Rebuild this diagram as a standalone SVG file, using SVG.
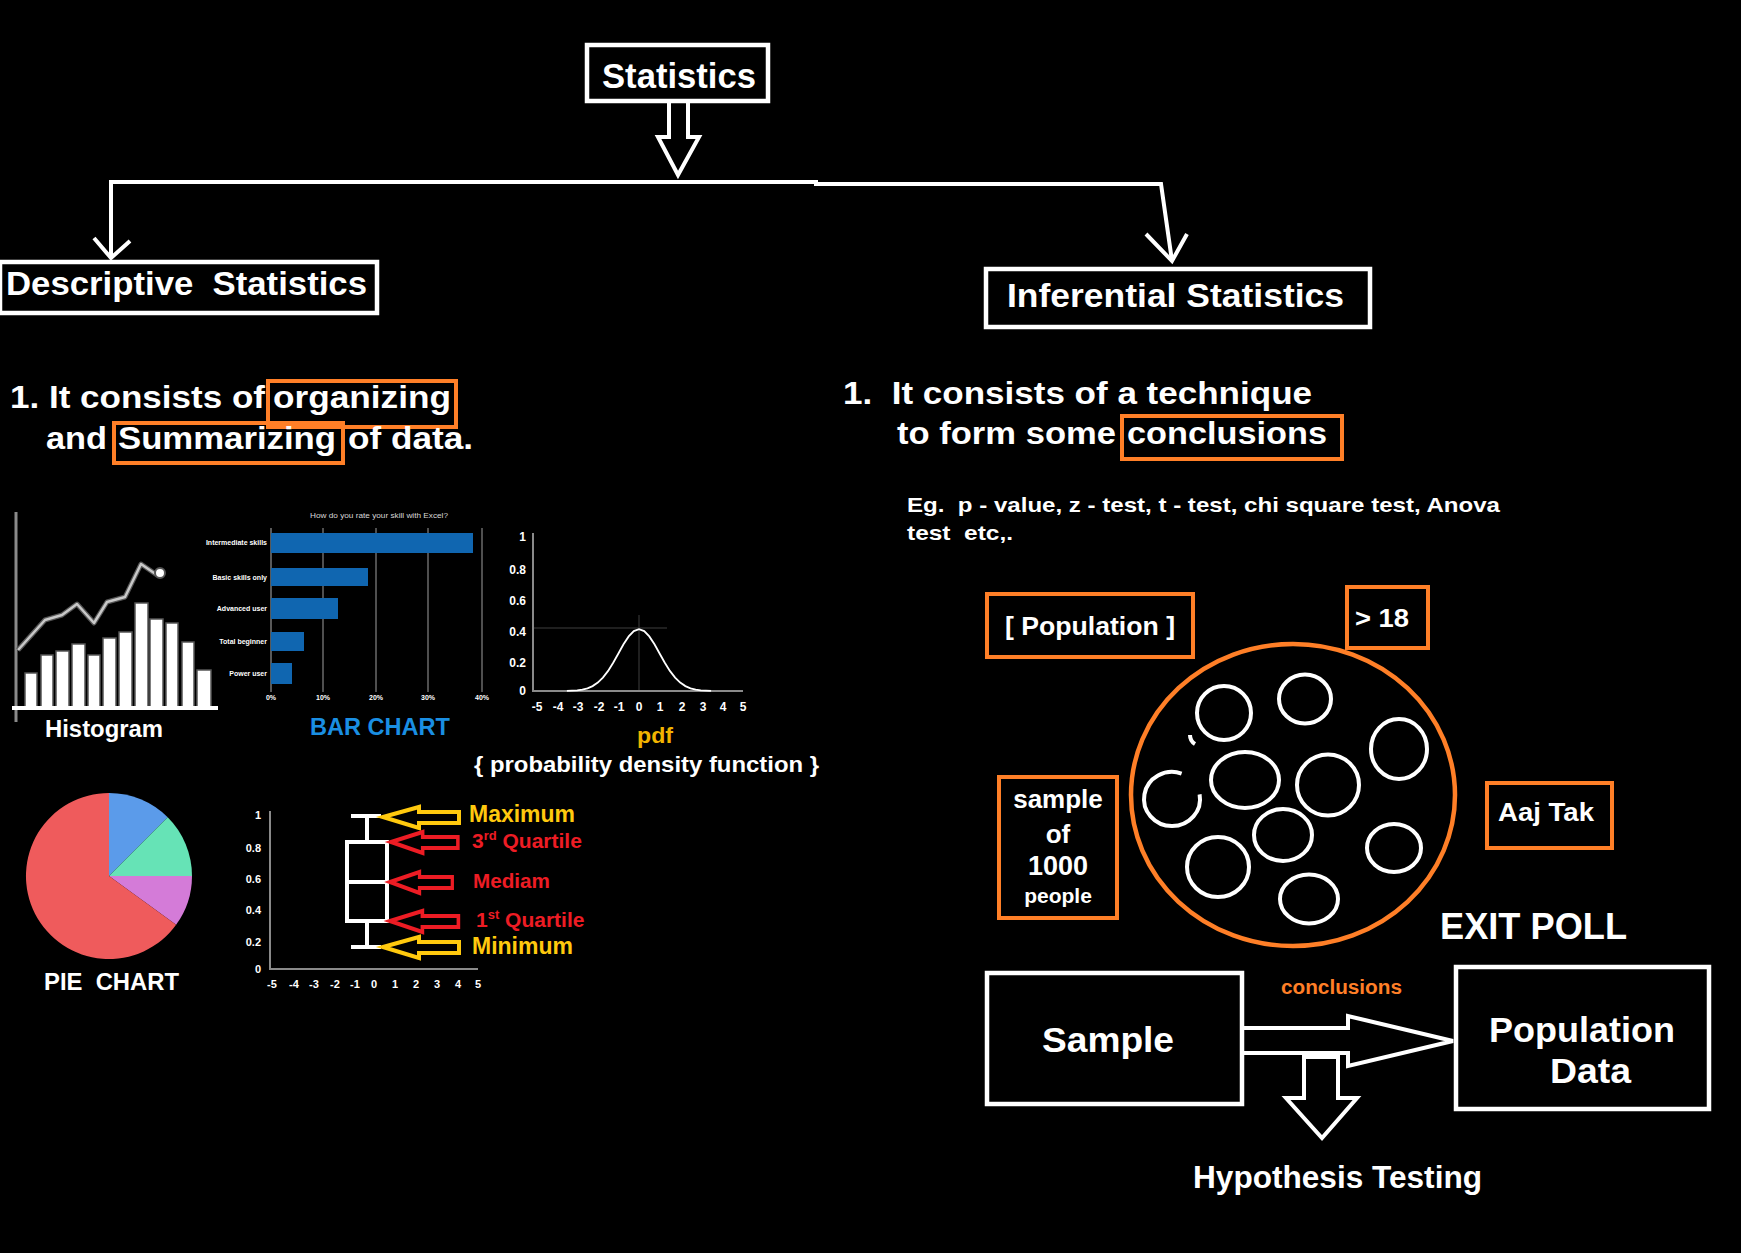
<svg xmlns="http://www.w3.org/2000/svg" width="1741" height="1253" viewBox="0 0 1741 1253">
<defs>
<style>
text{font-family:"Liberation Sans",Arial,sans-serif;font-weight:bold;fill:#fff}
.box{fill:none;stroke:#fff;stroke-width:4.5}
.obox{fill:none;stroke:#ff7f27;stroke-width:4}
.conn{fill:none;stroke:#fff;stroke-width:4;stroke-linejoin:miter}
.hol{fill:none;stroke:#fff;stroke-width:4;stroke-linejoin:miter}
.ax{stroke:#8a8a8a;stroke-width:2;fill:none}
.tick{font-size:12px;fill:#cfcfcf}
.tiny{font-size:7px;fill:#d8d8d8;font-weight:normal}
.bar{fill:#1066b0}
.grid{stroke:#6a6a6a;stroke-width:1.5}
.hbar{fill:#fff;stroke:#555;stroke-width:1.5}
.pc{fill:none;stroke:#fff;stroke-width:4}
.yarr{fill:none;stroke:#ffc90e;stroke-width:4;stroke-linejoin:miter}
.rarr{fill:none;stroke:#ed1c24;stroke-width:4;stroke-linejoin:miter}
.y{fill:#ffc90e}
.r{fill:#ed1c24}
</style>
<path id="larr" d="M0,0 L36,-10 L36,-5 L76,-5 L76,6 L36,6 L36,11 Z"/>
</defs>
<rect x="0" y="0" width="1741" height="1253" fill="#000"/>

<g id="connectors">
<path class="hol" d="M669,103 V137 H658 L678,175 L699,137 H688 V103"/>
<path class="conn" d="M111,258 V182 H816 V184 H1161 L1172,261"/>
<path class="conn" d="M94,238 L111,258 L130,241"/>
<path class="conn" d="M1146,234 L1172,261 L1187,234"/>
<path class="hol" d="M1244,1028 H1348 V1016 L1453,1041 L1348,1066 V1053 H1244"/>
<path class="hol" d="M1304,1057 V1098 H1286 L1322,1138 L1357,1098 H1338 V1057 Z"/>
</g>

<g id="node-statistics">
<rect class="box" x="587" y="45" width="181" height="56"/>
<text x="602" y="88" font-size="35" textLength="154" lengthAdjust="spacingAndGlyphs">Statistics</text>
</g>

<g id="node-descriptive">
<rect class="box" x="0" y="262" width="377" height="51"/>
<text x="6" y="295" font-size="33" textLength="361" lengthAdjust="spacingAndGlyphs" xml:space="preserve">Descriptive  Statistics</text>
</g>

<g id="node-inferential">
<rect class="box" x="986" y="269" width="384" height="58"/>
<text x="1007" y="307" font-size="33" textLength="337" lengthAdjust="spacingAndGlyphs">Inferential Statistics</text>
</g>

<g id="desc-text">
<text x="10" y="408" font-size="32" textLength="255" lengthAdjust="spacingAndGlyphs">1. It consists of</text>
<text x="273" y="408" font-size="32" textLength="178" lengthAdjust="spacingAndGlyphs">organizing</text>
<rect class="obox" x="268" y="381" width="188" height="46"/>
<text x="46" y="449" font-size="32" textLength="61" lengthAdjust="spacingAndGlyphs">and</text>
<text x="118" y="449" font-size="32" textLength="218" lengthAdjust="spacingAndGlyphs">Summarizing</text>
<rect class="obox" x="114" y="423" width="229" height="40"/>
<text x="348" y="449" font-size="32" textLength="125" lengthAdjust="spacingAndGlyphs">of data.</text>
</g>

<g id="inf-text">
<text x="843" y="404" font-size="32" textLength="469" lengthAdjust="spacingAndGlyphs" xml:space="preserve">1.  It consists of a technique</text>
<text x="897" y="444" font-size="32" textLength="219" lengthAdjust="spacingAndGlyphs">to form some</text>
<text x="1127" y="444" font-size="32" textLength="200" lengthAdjust="spacingAndGlyphs">conclusions</text>
<rect class="obox" x="1122" y="416" width="220" height="43"/>
<text x="907" y="512" font-size="21" textLength="593" lengthAdjust="spacingAndGlyphs" xml:space="preserve">Eg.  p - value, z - test, t - test, chi square test, Anova</text>
<text x="907" y="540" font-size="21" textLength="106" lengthAdjust="spacingAndGlyphs" xml:space="preserve">test  etc,.</text>
</g>

<g id="histogram">
<line x1="16" y1="512" x2="16" y2="722" stroke="#8a8a8a" stroke-width="3"/>
<rect class="hbar" x="25" y="673" width="12" height="35"/>
<rect class="hbar" x="41" y="655" width="12" height="53"/>
<rect class="hbar" x="56" y="651" width="13" height="57"/>
<rect class="hbar" x="72" y="644" width="13" height="64"/>
<rect class="hbar" x="88" y="655" width="12" height="53"/>
<rect class="hbar" x="103" y="638" width="13" height="70"/>
<rect class="hbar" x="119" y="632" width="13" height="76"/>
<rect class="hbar" x="135" y="603" width="13" height="105"/>
<rect class="hbar" x="150" y="619" width="13" height="89"/>
<rect class="hbar" x="166" y="623" width="12" height="85"/>
<rect class="hbar" x="182" y="642" width="12" height="66"/>
<rect class="hbar" x="197" y="670" width="14" height="38"/>
<line x1="12" y1="708" x2="218" y2="708" stroke="#fff" stroke-width="4"/>
<polyline points="18,650 45,620 62,615 77,604 94,623 107,602 125,597 141,564 157,575" fill="none" stroke="#555" stroke-width="5" stroke-linejoin="round"/>
<polyline points="18,650 45,620 62,615 77,604 94,623 107,602 125,597 141,564 157,575" fill="none" stroke="#c8c8c8" stroke-width="2.5" stroke-linejoin="round"/>
<circle cx="160" cy="573" r="5" fill="#fff" stroke="#555" stroke-width="2"/>
<text x="45" y="737" font-size="24" textLength="118" lengthAdjust="spacingAndGlyphs">Histogram</text>
</g>

<g id="bar-chart">
<text class="tiny" x="310" y="518" textLength="138" lengthAdjust="spacingAndGlyphs">How do you rate your skill with Excel?</text>
<line class="grid" x1="323" y1="528" x2="323" y2="692"/>
<line class="grid" x1="376" y1="528" x2="376" y2="692"/>
<line class="grid" x1="428" y1="528" x2="428" y2="692"/>
<line class="grid" x1="482" y1="528" x2="482" y2="692"/>
<line x1="271" y1="528" x2="271" y2="692" stroke="#777" stroke-width="1.5"/>
<rect class="bar" x="271" y="533" width="202" height="20"/>
<rect class="bar" x="271" y="568" width="97" height="18"/>
<rect class="bar" x="271" y="598" width="67" height="21"/>
<rect class="bar" x="271" y="632" width="33" height="19"/>
<rect class="bar" x="271" y="663" width="21" height="21"/>
<g class="tiny" text-anchor="end">
<text x="267" y="545">Intermediate skills</text>
<text x="267" y="580">Basic skills only</text>
<text x="267" y="611">Advanced user</text>
<text x="267" y="644">Total beginner</text>
<text x="267" y="676">Power user</text>
</g>
<g class="tiny" text-anchor="middle">
<text x="271" y="700">0%</text>
<text x="323" y="700">10%</text>
<text x="376" y="700">20%</text>
<text x="428" y="700">30%</text>
<text x="482" y="700">40%</text>
</g>
<text x="310" y="735" font-size="24" style="fill:#1a8fe3" textLength="140" lengthAdjust="spacingAndGlyphs">BAR CHART</text>
</g>

<g id="pdf-chart">
<line x1="533" y1="628" x2="667" y2="628" stroke="#2a2a2a" stroke-width="1.5"/>
<line x1="639" y1="615" x2="639" y2="691" stroke="#2a2a2a" stroke-width="1.5"/>
<polyline class="ax" points="533,533 533,691 743,691"/>
<polyline points="566.9,690.9 577.2,690.3 582.3,689.6 587.5,688.3 592.6,686.1 597.8,682.6 602.9,677.6 608.1,670.9 613.2,662.7 618.4,653.5 623.5,644.3 628.7,636.4 633.8,631.1 639,629.2 644.2,631.1 649.3,636.4 654.5,644.3 659.6,653.5 664.8,662.7 669.9,670.9 675.1,677.6 680.2,682.6 685.4,686.1 690.5,688.3 695.7,689.6 700.8,690.3 711.1,690.9" fill="none" stroke="#fff" stroke-width="1.8"/>
<g class="tick" text-anchor="end">
<text x="526" y="541">1</text>
<text x="526" y="574">0.8</text>
<text x="526" y="605">0.6</text>
<text x="526" y="636">0.4</text>
<text x="526" y="667">0.2</text>
<text x="526" y="695">0</text>
</g>
<g class="tick" text-anchor="middle">
<text x="537" y="711">-5</text>
<text x="558" y="711">-4</text>
<text x="578" y="711">-3</text>
<text x="599" y="711">-2</text>
<text x="619" y="711">-1</text>
<text x="639" y="711">0</text>
<text x="660" y="711">1</text>
<text x="682" y="711">2</text>
<text x="703" y="711">3</text>
<text x="723" y="711">4</text>
<text x="743" y="711">5</text>
</g>
<text x="637" y="743" font-size="22" style="fill:#f2b400" textLength="36" lengthAdjust="spacingAndGlyphs">pdf</text>
<text x="474" y="772" font-size="22" textLength="345" lengthAdjust="spacingAndGlyphs">{ probability density function }</text>
</g>

<g id="pie-chart">
<path d="M109,876 L109,793 A83,83 0 0 1 167.7,817.3 Z" fill="#5b9bea"/>
<path d="M109,876 L167.7,817.3 A83,83 0 0 1 192,876 Z" fill="#66e3b6"/>
<path d="M109,876 L192,876 A83,83 0 0 1 176.1,924.8 Z" fill="#d47bd8"/>
<path d="M109,876 L176.1,924.8 A83,83 0 1 1 109,793 Z" fill="#ef5b5c"/>
<text x="44" y="990" font-size="23" textLength="135" lengthAdjust="spacingAndGlyphs" xml:space="preserve">PIE  CHART</text>
</g>

<g id="box-plot">
<polyline class="ax" points="270,811 270,969 478,969"/>
<g class="tick" text-anchor="end" style="font-size:11px">
<text x="261" y="819">1</text>
<text x="261" y="852">0.8</text>
<text x="261" y="883">0.6</text>
<text x="261" y="914">0.4</text>
<text x="261" y="946">0.2</text>
<text x="261" y="973">0</text>
</g>
<g class="tick" text-anchor="middle" style="font-size:11px">
<text x="272" y="988">-5</text>
<text x="294" y="988">-4</text>
<text x="314" y="988">-3</text>
<text x="335" y="988">-2</text>
<text x="355" y="988">-1</text>
<text x="374" y="988">0</text>
<text x="395" y="988">1</text>
<text x="416" y="988">2</text>
<text x="437" y="988">3</text>
<text x="458" y="988">4</text>
<text x="478" y="988">5</text>
</g>
<path class="pc" d="M351,816 H381 M367,816 V842 M347,842 H387 V921 H347 Z M347,882 H387 M367,921 V947 M351,947 H381"/>
<use href="#larr" class="yarr" transform="translate(383,817)"/>
<use href="#larr" class="rarr" transform="translate(391,842) scale(0.88,1)"/>
<use href="#larr" class="rarr" transform="translate(390,882) scale(0.82,1)"/>
<use href="#larr" class="rarr" transform="translate(390,921) scale(0.9,1)"/>
<use href="#larr" class="yarr" transform="translate(383,947)"/>
<text class="y" x="469" y="822" font-size="23" textLength="106" lengthAdjust="spacingAndGlyphs">Maximum</text>
<text class="r" x="472" y="848" font-size="21">3<tspan font-size="13" dy="-8">rd</tspan><tspan dy="8"> Quartile</tspan></text>
<text class="r" x="473" y="888" font-size="21" textLength="77" lengthAdjust="spacingAndGlyphs">Mediam</text>
<text class="r" x="476" y="927" font-size="21">1<tspan font-size="13" dy="-8">st</tspan><tspan dy="8"> Quartile</tspan></text>
<text class="y" x="472" y="954" font-size="23" textLength="101" lengthAdjust="spacingAndGlyphs">Minimum</text>
</g>

<g id="node-population-label">
<rect class="obox" x="987" y="594" width="206" height="63"/>
<text x="1005" y="635" font-size="25" textLength="170" lengthAdjust="spacingAndGlyphs">[ Population ]</text>
</g>
<g id="node-age">
<rect class="obox" x="1347" y="587" width="81" height="61"/>
<text x="1355" y="627" font-size="26" textLength="54" lengthAdjust="spacingAndGlyphs">&gt; 18</text>
</g>
<g id="node-sample-label">
<rect class="obox" x="999" y="777" width="118" height="141"/>
<g text-anchor="middle">
<text x="1058" y="808" font-size="26">sample</text>
<text x="1058" y="843" font-size="26">of</text>
<text x="1058" y="875" font-size="27">1000</text>
<text x="1058" y="903" font-size="21">people</text>
</g>
</g>
<g id="node-aajtak">
<rect class="obox" x="1487" y="783" width="125" height="65"/>
<text x="1498" y="821" font-size="26" textLength="96" lengthAdjust="spacingAndGlyphs">Aaj Tak</text>
</g>

<g id="population-circle">
<ellipse cx="1293" cy="795" rx="162" ry="151" fill="none" stroke="#ff7f27" stroke-width="4.5"/>
<ellipse class="pc" cx="1224" cy="713" rx="27" ry="27"/>
<ellipse class="pc" cx="1305" cy="699" rx="26" ry="24.5"/>
<ellipse class="pc" cx="1399" cy="749" rx="28" ry="30"/>
<ellipse class="pc" cx="1245" cy="780" rx="34" ry="28"/>
<ellipse class="pc" cx="1328" cy="785" rx="31" ry="30.5"/>
<path class="pc" d="M1199.6,794.3 A28,27 0 1 1 1181.6,773.6"/>
<path class="pc" d="M1190,735 Q1190,741 1195,744" stroke-width="3"/>
<ellipse class="pc" cx="1283" cy="835" rx="29" ry="26"/>
<ellipse class="pc" cx="1394" cy="848" rx="27" ry="24"/>
<ellipse class="pc" cx="1218" cy="867" rx="31" ry="30"/>
<ellipse class="pc" cx="1309" cy="899" rx="29" ry="24.5"/>
</g>

<g id="exit-poll">
<text x="1440" y="939" font-size="37" textLength="187" lengthAdjust="spacingAndGlyphs">EXIT POLL</text>
</g>

<g id="node-sample">
<rect class="box" x="987" y="973" width="255" height="131"/>
<text x="1042" y="1052" font-size="35" textLength="132" lengthAdjust="spacingAndGlyphs">Sample</text>
</g>
<g id="node-population-data">
<rect class="box" x="1456" y="967" width="253" height="142"/>
<text x="1489" y="1042" font-size="35" textLength="186" lengthAdjust="spacingAndGlyphs">Population</text>
<text x="1550" y="1083" font-size="35" textLength="81" lengthAdjust="spacingAndGlyphs">Data</text>
</g>
<g id="label-conclusions">
<text x="1281" y="994" font-size="20" style="fill:#ff7f27" textLength="121" lengthAdjust="spacingAndGlyphs">conclusions</text>
</g>
<g id="node-hypothesis">
<text x="1193" y="1188" font-size="31" textLength="289" lengthAdjust="spacingAndGlyphs">Hypothesis Testing</text>
</g>
</svg>
